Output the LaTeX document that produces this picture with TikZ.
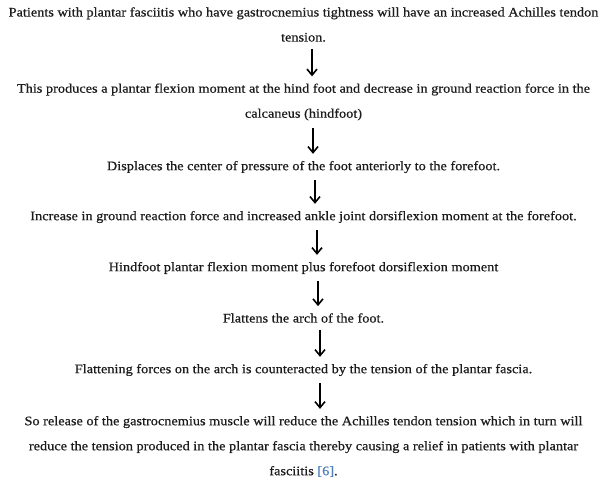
\documentclass[tikz,border=0pt]{standalone}
\usepackage{fontspec}
\setmainfont{Liberation Serif}[FakeStretch=1.1, FakeBold=0.6]
\usetikzlibrary{arrows.meta}
\definecolor{steptext}{HTML}{1C1C1C}
\definecolor{citeblue}{HTML}{4F81BD}
\tikzset{
	steptext/.style={inner sep=0pt, align=center, text=steptext, font=\fontsize{13}{25}\selectfont},
	flowarrow/.style={line width=1.6pt, -{Straight Barb[length=6pt,width=10pt,line width=1.6pt]}, shorten <=7pt, shorten >=7pt}
}
\begin{document}
\begin{tikzpicture}[x=1pt, y=-1pt]
	\useasboundingbox (0,0) rectangle (607,483);
	\node[steptext] (patients) at (303.5, 24.5) {Patients with plantar fasciitis who have gastrocnemius tightness will have an increased Achilles tendon\\tension.};
	\node[steptext] (produces) at (303.5, 102) {This produces a plantar flexion moment at the hind foot and decrease in ground reaction force in the\\calcaneus (hindfoot)};
	\node[steptext] (displaces) at (303.5, 167) {Displaces the center of pressure of the foot anteriorly to the forefoot.};
	\node[steptext] (increase) at (303.5, 217) {Increase in ground reaction force and increased ankle joint dorsiflexion moment at the forefoot.};
	\node[steptext] (hindfoot) at (303.5, 268) {Hindfoot plantar flexion moment plus forefoot dorsiflexion moment};
	\node[steptext] (flattens) at (303.5, 318) {Flattens the arch of the foot.};
	\node[steptext] (flattening) at (303.5, 370) {Flattening forces on the arch is counteracted by the tension of the plantar fascia.};
	\node[steptext] (release) at (303.5, 446.5) {So release of the gastrocnemius muscle will reduce the Achilles tendon tension which in turn will\\reduce the tension produced in the plantar fascia thereby causing a relief in patients with plantar\\fasciitis \textcolor{citeblue}{[6]}.};
	\coordinate (a1) at (312, 0);
	\coordinate (a2) at (313, 0);
	\coordinate (a3) at (315, 0);
	\coordinate (a4) at (317, 0);
	\coordinate (a5) at (318, 0);
	\coordinate (a6) at (320, 0);
	\coordinate (a7) at (320, 0);
	\draw[flowarrow] (patients.south -| a1) -- (produces.north -| a1);
	\draw[flowarrow] (produces.south -| a2) -- (displaces.north -| a2);
	\draw[flowarrow] (displaces.south -| a3) -- (increase.north -| a3);
	\draw[flowarrow] (increase.south -| a4) -- (hindfoot.north -| a4);
	\draw[flowarrow] (hindfoot.south -| a5) -- (flattens.north -| a5);
	\draw[flowarrow] (flattens.south -| a6) -- (flattening.north -| a6);
	\draw[flowarrow] (flattening.south -| a7) -- (release.north -| a7);
\end{tikzpicture}
\end{document}
